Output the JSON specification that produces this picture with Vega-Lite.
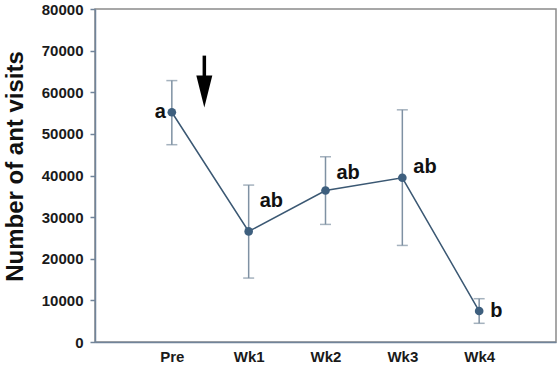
{
  "$schema": "https://vega.github.io/schema/vega-lite/v6.json",
  "width": 461,
  "height": 333,
  "autosize": "none",
  "padding": {"left": 95, "top": 9, "right": 2, "bottom": 24},
  "config": {
    "view": {"stroke": "#8a8a8a", "strokeWidth": 1.5},
    "font": "Liberation Sans"
  },
  "datasets": {
    "pts": [
      {"week": "Pre", "pos": 1, "mean": 55200, "lo": 47400, "hi": 62800, "letter": "a", "ly": 55200},
      {"week": "Wk1", "pos": 2, "mean": 26570, "lo": 15360, "hi": 37700, "letter": "ab", "ly": 33770},
      {"week": "Wk2", "pos": 3, "mean": 36400, "lo": 28250, "hi": 44500, "letter": "ab", "ly": 40500},
      {"week": "Wk3", "pos": 4, "mean": 39450, "lo": 23200, "hi": 55780, "letter": "ab", "ly": 41930},
      {"week": "Wk4", "pos": 5, "mean": 7440, "lo": 4490, "hi": 10400, "letter": "b", "ly": 7440}
    ],
    "arrow": [
      {"ax": 1.423, "top": 68800, "bot": 62000, "head": 60200}
    ]
  },
  "layer": [
    {
      "data": {"name": "pts"},
      "mark": {"type": "rule", "color": "#7f91a3", "strokeWidth": 1.5},
      "encoding": {
        "x": {
          "field": "pos", "type": "quantitative",
          "scale": {"domain": [0, 6], "nice": false, "zero": false},
          "axis": {
            "values": [1, 2, 3, 4, 5],
            "labelExpr": "['','Pre','Wk1','Wk2','Wk3','Wk4'][datum.value]",
            "ticks": false, "grid": false, "title": null,
            "labelFont": "Liberation Sans", "labelFontWeight": "bold", "labelFontSize": 15,
            "labelColor": "#1a1a1a", "labelPadding": 7,
            "domainColor": "#71849a", "domainWidth": 1.5
          }
        },
        "y": {
          "field": "lo", "type": "quantitative",
          "scale": {"domain": [0, 80000], "nice": false},
          "axis": {
            "values": [0, 10000, 20000, 30000, 40000, 50000, 60000, 70000, 80000],
            "grid": false, "format": "d",
            "title": "Number of ant visits",
            "titleFont": "Liberation Sans", "titleFontWeight": "bold", "titleFontSize": 24,
            "titleColor": "#111111", "titlePadding": 14, "titleY": 157,
            "labelFont": "Liberation Sans", "labelFontWeight": "bold", "labelFontSize": 15,
            "labelColor": "#1a1a1a", "labelPadding": 7,
            "tickSize": 5, "tickColor": "#71849a", "tickWidth": 1.5,
            "domainColor": "#71849a", "domainWidth": 1.5
          }
        },
        "y2": {"field": "hi"}
      }
    },
    {
      "data": {"name": "pts"},
      "mark": {"type": "tick", "orient": "horizontal", "color": "#7f91a3", "size": 11, "thickness": 1.5},
      "encoding": {
        "x": {"field": "pos", "type": "quantitative"},
        "y": {"field": "hi", "type": "quantitative"}
      }
    },
    {
      "data": {"name": "pts"},
      "mark": {"type": "tick", "orient": "horizontal", "color": "#7f91a3", "size": 11, "thickness": 1.5},
      "encoding": {
        "x": {"field": "pos", "type": "quantitative"},
        "y": {"field": "lo", "type": "quantitative"}
      }
    },
    {
      "data": {"name": "pts"},
      "mark": {"type": "line", "color": "#3b5873", "strokeWidth": 1.5},
      "encoding": {
        "x": {"field": "pos", "type": "quantitative"},
        "y": {"field": "mean", "type": "quantitative"}
      }
    },
    {
      "data": {"name": "pts"},
      "mark": {"type": "point", "filled": true, "color": "#3e5f7e", "size": 75, "opacity": 1},
      "encoding": {
        "x": {"field": "pos", "type": "quantitative"},
        "y": {"field": "mean", "type": "quantitative"}
      }
    },
    {
      "data": {"name": "pts"},
      "transform": [{"filter": "datum.week == 'Pre'"}],
      "mark": {"type": "text", "align": "right", "baseline": "middle", "dx": -6, "font": "Liberation Sans", "fontWeight": "bold", "fontSize": 20, "color": "#111111"},
      "encoding": {
        "x": {"field": "pos", "type": "quantitative"},
        "y": {"field": "ly", "type": "quantitative"},
        "text": {"field": "letter"}
      }
    },
    {
      "data": {"name": "pts"},
      "transform": [{"filter": "datum.week != 'Pre'"}],
      "mark": {"type": "text", "align": "left", "baseline": "middle", "dx": 11, "font": "Liberation Sans", "fontWeight": "bold", "fontSize": 20, "color": "#111111"},
      "encoding": {
        "x": {"field": "pos", "type": "quantitative"},
        "y": {"field": "ly", "type": "quantitative"},
        "text": {"field": "letter"}
      }
    },
    {
      "data": {"name": "arrow"},
      "mark": {"type": "rule", "color": "#000000", "strokeWidth": 3.5},
      "encoding": {
        "x": {"field": "ax", "type": "quantitative"},
        "y": {"field": "top", "type": "quantitative"},
        "y2": {"field": "bot"}
      }
    },
    {
      "data": {"name": "arrow"},
      "mark": {"type": "point", "filled": true, "color": "#000000", "opacity": 1, "shape": "M-0.5,-1L0.5,-1L0,1Z", "size": 1024},
      "encoding": {
        "x": {"field": "ax", "type": "quantitative"},
        "y": {"field": "head", "type": "quantitative"}
      }
    }
  ]
}
